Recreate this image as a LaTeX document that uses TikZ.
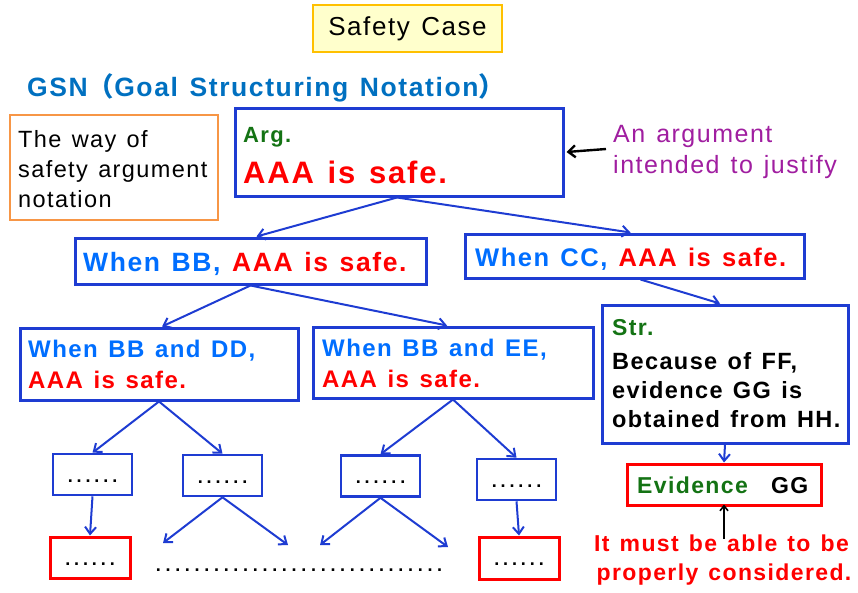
\documentclass[tikz,border=0pt]{standalone}
\usepackage{fontspec}
\setmainfont{Liberation Sans}[LetterSpace=6,WordSpace=1.3]
\newfontfamily\cjk{Noto Sans CJK JP}
\usetikzlibrary{arrows.meta,calc}
\definecolor{boxblue}{RGB}{30,60,210}
\definecolor{tblue}{RGB}{0,110,255}
\definecolor{gsnblue}{RGB}{0,112,192}
\definecolor{myred}{RGB}{255,0,0}
\definecolor{mygreen}{RGB}{20,115,20}
\definecolor{mypurple}{RGB}{160,30,160}
\definecolor{myorange}{RGB}{247,150,70}
\definecolor{ybord}{RGB}{255,192,0}
\definecolor{yfill}{RGB}{255,255,204}
\newcommand\fs[1]{\fontsize{#1}{#1}\selectfont}
\newcommand\onedot[1]{\makebox[#1]{.}}
\newcommand\sixdots{\onedot{8.9pt}\onedot{8.9pt}\onedot{8.9pt}\onedot{8.9pt}\onedot{8.9pt}\onedot{8.9pt}\hspace{9pt}}
\newcommand\tendots{\onedot{9.7pt}\onedot{9.7pt}\onedot{9.7pt}\onedot{9.7pt}\onedot{9.7pt}\onedot{9.7pt}\onedot{9.7pt}\onedot{9.7pt}\onedot{9.7pt}\onedot{9.7pt}}
\begin{document}
\begin{tikzpicture}[x=1pt,y=-1pt,
  txt/.style={inner sep=0pt,anchor=base west},
  gbox/.style={draw=boxblue,line width=3pt,inner sep=0pt},
  sbox/.style={gbox,line width=2.6pt,minimum width=79pt,minimum height=41pt,text height=15pt,text depth=0pt,font=\fs{18}\bfseries},
  rbox/.style={sbox,draw=myred,line width=3pt},
  arr/.style={draw=boxblue,line width=2pt,-{Straight Barb[length=7pt,width=11pt]}},
]
\useasboundingbox (0,0) rectangle (858,592);
% top
\node[draw=ybord,fill=yfill,line width=2.4pt,minimum width=189pt,minimum height=47pt,inner sep=0pt] (sc) at (407.5,28.5) {\fs{26}Safety Case};
\node[txt,text=gsnblue] (gsn) at (27,96) {\fs{26.5}\bfseries GSN{\cjk（}Goal Structuring Notation{\cjk）}};
% notation box
\node[draw=myorange,line width=2.4pt,minimum width=208pt,minimum height=105pt,inner sep=0pt] (way) at (114,167.5) {};
\node[txt] (way1) at (18,147) {\fs{23.5}The way of};
\node[txt] (way2) at (18,177) {\fs{23.5}safety argument};
\node[txt] (way3) at (18,207) {\fs{23.5}notation};
% Arg box
\node[gbox,minimum width=328pt,minimum height=88pt] (arg) at (399,152) {};
\node[txt,text=mygreen] (argL) at (243,142) {\fs{22}\bfseries Arg.};
\node[txt,text=myred] (argT) at (243,183) {\fs{31}\bfseries AAA is safe.};
% purple note
\node[txt,text=mypurple] (pur1) at (613,142) {\fs{25}An argument};
\node[txt,text=mypurple] (pur2) at (613,173) {\fs{25}intended to justify};
\coordinate (ptail) at (606,149);
\draw[line width=2.4pt,-{Straight Barb[length=7pt,width=12pt]}] (ptail) -- ([xshift=2pt]arg.east);
% level 2
\node[gbox,minimum width=351pt,minimum height=46pt] (bb) at (250.5,261) {};
\node[txt] (bbT) at (83,271.5) {\fs{26.5}\bfseries\textcolor{tblue}{When BB,} \textcolor{myred}{AAA is safe.}};
\node[gbox,minimum width=339pt,minimum height=44pt] (cc) at (634.5,256) {};
\node[txt] (ccT) at (475,266.5) {\fs{25.5}\bfseries\textcolor{tblue}{When CC,} \textcolor{myred}{AAA is safe.}};
\draw[arr] ([xshift=-2pt]arg.south) -- ([xshift=6pt]bb.north);
\draw[arr] ([xshift=-2pt]arg.south) -- ([xshift=-4pt]cc.north);
% level 3
\node[gbox,minimum width=278pt,minimum height=72pt] (dd) at (159,364) {};
\node[txt,text=tblue] (dd1) at (28,357) {\fs{24}\bfseries When BB and DD,};
\node[txt,text=myred] (dd2) at (28,388) {\fs{24}\bfseries AAA is safe.};
\node[gbox,minimum width=280pt,minimum height=71pt] (ee) at (453,362.5) {};
\node[txt,text=tblue] (ee1) at (322,356) {\fs{24}\bfseries When BB and EE,};
\node[txt,text=myred] (ee2) at (322,387) {\fs{24}\bfseries AAA is safe.};
\draw[arr] (bb.south) -- ([xshift=3pt]dd.north);
\draw[arr] (bb.south) -- ([xshift=-6pt]ee.north);
% strategy
\node[gbox,minimum width=246pt,minimum height=138pt] (str) at (725,374) {};
\node[txt,text=mygreen] (strL) at (612,335) {\fs{23}\bfseries Str.};
\node[txt] (str1) at (612,369) {\fs{23.5}\bfseries Because of FF,};
\node[txt] (str2) at (612,398) {\fs{23.5}\bfseries evidence GG is};
\node[txt] (str3) at (612,427) {\fs{23.5}\bfseries obtained from HH.};
\draw[arr] ([xshift=6pt]cc.south) -- ([xshift=-5pt]str.north);
% evidence
\node[draw=myred,line width=3pt,minimum width=194pt,minimum height=41pt,inner sep=0pt] (evid) at (724,484.5) {};
\node[txt,text=mygreen] (evT) at (637,493) {\fs{23}\bfseries Evidence};
\node[txt] (evG) at (771,493) {\fs{23}\bfseries GG};
\draw[arr] (str.south) -- (evid.north);
\node[txt,anchor=base,text=myred] (must1) at (721.5,551) {\fs{23}\bfseries It must be able to be};
\node[txt,anchor=base,text=myred] (must2) at (724,580) {\fs{23}\bfseries properly considered.};
\draw[line width=1.6pt,-{Straight Barb[length=5pt,width=8pt]}] ([yshift=-5pt]evid.south |- must1.north) -- ([yshift=2pt]evid.south);
% small boxes
\node[sbox] (s1) at (92.5,474.5) {\sixdots};
\node[sbox] (s2) at (222.5,475.5) {\sixdots};
\node[sbox] (s3) at (380.5,476) {\sixdots};
\node[sbox] (s4) at (516.5,479.5) {\sixdots};
\node[rbox,minimum width=80pt] (r1) at (90,557.5) {\sixdots};
\node[rbox,minimum width=80pt,minimum height=42pt] (r2) at (519,558) {\sixdots};
\draw[arr] (dd.south) -- (s1.north);
\draw[arr] (dd.south) -- (s2.north);
\draw[arr] (ee.south) -- (s3.north);
\draw[arr] (ee.south) -- (s4.north);
\draw[arr] (s1.south) -- (r1.north);
\draw[arr] (s4.south) -- (r2.north);
\coordinate (f1) at (163,543);
\coordinate (f2) at (288,545);
\coordinate (f3) at (320,545);
\coordinate (f4) at (448,547);
\draw[arr] (s2.south) -- (f1);
\draw[arr] (s2.south) -- (f2);
\draw[arr] (s3.south) -- (f3);
\draw[arr] (s3.south) -- (f4);
\node[inner sep=0pt,anchor=base] (dotline) at (299,571) {\fs{18}\bfseries\tendots\tendots\tendots};
\end{tikzpicture}
\end{document}
